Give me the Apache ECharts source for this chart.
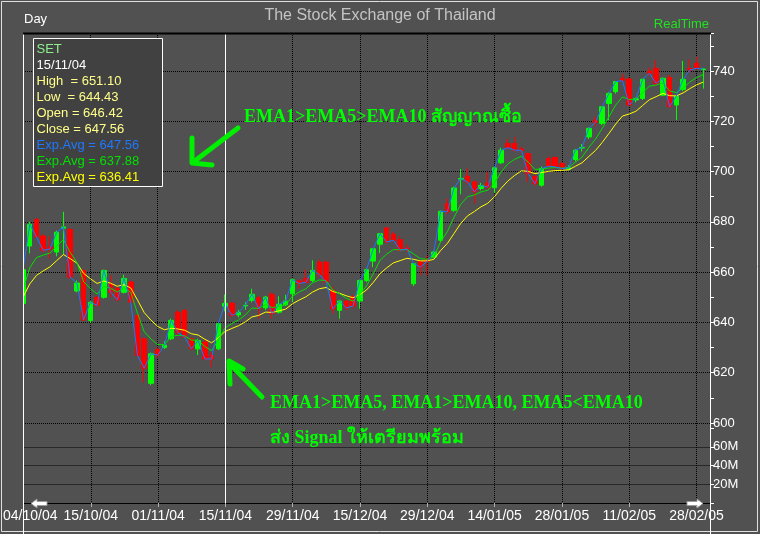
<!DOCTYPE html>
<html><head><meta charset="utf-8">
<script src="https://cdn.jsdelivr.net/npm/echarts@6/dist/echarts.min.js"></script>
<style>html,body{margin:0;padding:0;background:#515151;}#c{width:760px;height:534px;}</style>
</head><body><div id="c"></div>
<script>
const dates = ['01/10/04','04/10/04','05/10/04','06/10/04','07/10/04','08/10/04','11/10/04','12/10/04','13/10/04','14/10/04',
'15/10/04','18/10/04','19/10/04','20/10/04','21/10/04','22/10/04','26/10/04','27/10/04','28/10/04','29/10/04',
'01/11/04','02/11/04','03/11/04','04/11/04','05/11/04','08/11/04','09/11/04','10/11/04','11/11/04','12/11/04',
'15/11/04','16/11/04','17/11/04','18/11/04','19/11/04','22/11/04','23/11/04','24/11/04','25/11/04','26/11/04',
'29/11/04','30/11/04','01/12/04','02/12/04','03/12/04','07/12/04','08/12/04','09/12/04','13/12/04','14/12/04',
'15/12/04','16/12/04','17/12/04','20/12/04','21/12/04','22/12/04','23/12/04','24/12/04','27/12/04','28/12/04',
'29/12/04','30/12/04','04/01/05','05/01/05','06/01/05','07/01/05','10/01/05','11/01/05','12/01/05','13/01/05',
'14/01/05','17/01/05','18/01/05','19/01/05','20/01/05','21/01/05','24/01/05','25/01/05','26/01/05','27/01/05',
'28/01/05','31/01/05','01/02/05','02/02/05','03/02/05','04/02/05','07/02/05','08/02/05','09/02/05','10/02/05',
'11/02/05','14/02/05','15/02/05','16/02/05','17/02/05','18/02/05','21/02/05','22/02/05','24/02/05','25/02/05',
'28/02/05','01/03/05','02/03/05'];

const openP = [647.5,670.4,681.0,674.4,670.0,668.0,677.5,677.0,652.5,660.7,
640.8,650.0,650.0,655.4,653.5,652.0,656.1,642.8,633.5,615.8,
629.2,630.0,633.5,644.1,644.8,633.5,629.5,632.2,627.0,629.5,
646.42,647.7,643.0,646.6,648.8,649.8,645.8,651.2,644.1,647.0,
651.4,656.5,657.5,656.7,664.0,664.0,652.8,644.8,648.5,650.2,
648.5,656.7,664.4,671.1,677.6,675.1,672.9,669.5,655.4,664.2,
665.0,666.0,672.7,687.3,684.6,697.0,698.2,695.9,693.3,695.5,
693.6,703.5,711.2,711.2,709.0,707.2,698.0,694.6,705.2,705.6,
703.2,701.0,704.8,709.4,713.8,720.5,719.2,727.1,731.8,737.1,
736.8,728.5,729.1,740.0,741.1,730.4,737.5,726.5,732.7,741.0,
743.1,740.6];

const highP = [662.0,680.0,681.5,675.0,674.3,676.5,684.0,677.5,656.7,661.0,
648.5,650.5,661.0,658.7,654.5,659.0,656.5,643.5,634.0,628.0,
630.0,632.5,641.5,645.0,645.3,634.0,633.5,633.0,628.2,640.0,
651.10,648.0,645.0,648.0,653.4,650.5,650.5,652.0,650.4,651.0,
657.5,657.0,661.0,664.7,665.0,664.5,654.3,648.8,649.0,651.0,
657.0,661.5,669.5,675.5,678.0,676.0,674.5,671.0,663.5,664.5,
666.5,668.5,684.5,689.3,694.0,701.0,701.2,696.5,695.5,699.9,
702.0,709.5,713.0,713.8,710.0,707.5,699.0,702.0,706.0,706.0,
704.0,702.5,709.0,711.0,717.5,722.0,726.0,731.5,736.0,739.0,
737.5,729.5,737.0,741.5,744.4,737.5,738.5,730.5,744.0,744.6,
745.7,741.0];

const lowP = [646.5,667.5,673.5,668.0,665.5,666.3,667.0,657.5,652.0,640.5,
639.7,646.4,649.5,650.0,648.5,651.5,647.5,626.3,616.2,615.0,
626.0,629.5,633.0,635.0,634.0,629.0,627.0,625.0,622.2,629.0,
644.43,642.0,642.0,645.0,648.0,641.5,645.0,641.5,643.5,646.5,
648.1,653.5,655.5,656.0,658.0,656.0,643.5,641.5,645.0,645.5,
645.5,656.0,662.0,667.6,671.5,672.0,668.5,668.0,654.5,658.7,
658.7,665.5,672.0,683.0,684.0,691.0,695.0,687.3,692.5,693.0,
691.5,703.0,709.0,708.0,707.5,695.9,694.5,694.0,701.5,701.0,
700.5,700.5,704.0,708.0,713.0,718.0,718.5,720.5,731.0,735.5,
726.0,727.5,728.5,738.0,734.0,730.0,725.5,720.5,732.0,739.5,
740.5,733.0];

const closeP = [661.0,679.0,674.0,668.7,669.2,675.9,678.0,658.0,655.7,641.0,
648.0,646.8,660.7,652.0,649.0,657.5,648.1,626.8,621.8,627.5,
627.0,631.0,640.8,636.0,634.2,629.5,632.8,625.5,625.5,639.5,
647.56,642.8,644.0,646.8,651.2,645.4,650.1,643.5,647.2,648.5,
657.0,655.5,656.0,660.7,659.0,656.1,645.4,648.5,645.8,646.5,
656.7,661.0,669.3,675.3,672.0,672.7,668.7,669.3,663.4,662.0,
664.3,668.0,684.2,684.0,693.5,697.3,695.9,692.0,694.5,693.8,
701.5,708.5,709.5,708.5,708.5,699.2,695.2,701.2,702.1,701.9,
701.2,701.5,708.5,709.6,717.2,719.5,725.8,731.1,735.8,736.2,
726.5,729.0,736.7,739.1,735.1,737.1,725.8,730.0,736.7,740.4,
741.1,740.8];

const ema5 = [653.0,661.7,665.8,666.8,667.6,670.4,672.9,667.9,663.9,656.2,
653.5,651.3,654.4,653.6,652.1,653.9,652.0,643.6,636.3,633.4,
631.2,631.2,634.4,634.9,634.7,633.0,632.9,630.4,628.8,633.0,
637.88,639.5,641.0,642.9,645.7,645.6,647.1,645.9,646.3,647.1,
650.4,652.1,653.4,655.8,656.9,656.6,652.9,651.4,649.6,648.5,
651.3,654.5,659.4,664.7,667.2,669.0,668.9,669.0,667.2,665.4,
665.1,666.0,672.1,676.1,681.9,687.0,690.0,690.7,691.9,692.6,
695.5,699.9,703.1,704.9,706.1,703.8,700.9,701.0,701.4,701.6,
701.4,701.5,703.8,705.7,709.6,712.9,717.2,721.8,726.5,729.7,
728.7,728.8,731.4,734.0,734.4,735.3,732.1,731.4,733.2,735.6,
737.4,738.6];

const ema10 = [650.0,655.3,658.7,660.5,662.1,664.6,667.0,665.4,663.6,659.5,
657.4,655.5,656.5,655.6,654.4,655.0,653.7,648.9,643.9,640.9,
638.4,637.1,637.7,637.4,636.9,635.5,635.0,633.3,631.9,633.9,
636.41,637.6,638.7,640.2,642.2,642.8,644.1,644.0,644.6,645.3,
647.4,648.9,650.2,652.1,653.4,653.9,652.3,651.6,650.6,649.8,
651.1,652.9,655.9,659.4,661.7,663.7,664.6,665.5,665.1,664.5,
664.5,665.1,668.6,671.4,675.4,679.4,682.4,684.1,686.0,687.4,
690.0,693.4,696.3,698.5,700.3,700.1,699.2,699.6,700.1,700.4,
700.5,700.7,702.1,703.5,706.0,708.4,711.6,715.2,718.9,722.1,
722.9,724.0,726.3,728.6,729.8,731.1,730.2,730.1,731.3,733.0,
734.5,735.6];

const volumeTickLabels = ['20M','40M','60M'];
const cursorDate = '15/11/04';
const infoLines = ['SET','15/11/04','High  = 651.10','Low  = 644.43','Open = 646.42','Close = 647.56','Exp.Avg = 647.56','Exp.Avg = 637.88','Exp.Avg = 636.41'];
const infoColors = ['#8fef8f','#ffffff','#ffff8a','#ffff8a','#ffff8a','#ffff8a','#1e78ff','#00e000','#ffff00'];

const candleData = openP.map((o,i)=>[o, closeP[i], lowP[i], highP[i]]);

const chart = echarts.init(document.getElementById('c'), null, {renderer:'canvas'});
const FONT = '"Liberation Sans", Arial, sans-serif';
const majorIdx = (i)=> i>0 && i%10===0;
const labelIdx = (i)=> i===1 || (i>=10 && i%10===0);

function graphics(cursorX){
  const g = [];
  // mask outside the left plot edge
  g.push({type:'rect', z:95, shape:{x:2,y:34,width:21,height:468}, style:{fill:'#515151'}});
  g.push({type:'rect', z:100, shape:{x:1.5,y:1.5,width:756,height:530}, style:{fill:'none', stroke:'#e0e0e0', lineWidth:1}});
  g.push({type:'line', z:100, shape:{x1:23.5,y1:33,x2:23.5,y2:534}, style:{stroke:'#ffffff', lineWidth:1}});
  g.push({type:'line', z:100, shape:{x1:710.5,y1:33,x2:710.5,y2:534}, style:{stroke:'#ffffff', lineWidth:1}});
  g.push({type:'line', z:100, shape:{x1:23,y1:33.5,x2:711,y2:33.5}, style:{stroke:'#000000', lineWidth:2}});
  if (cursorX != null) {
    const cx = Math.floor(cursorX)+0.5;
    g.push({type:'line', id:'cursor', z:90, shape:{x1:cx,y1:34,x2:cx,y2:503}, style:{stroke:'#ffffff', lineWidth:1}});
  }
  g.push({type:'text', z:100, style:{text:'The Stock Exchange of Thailand', x:380, y:16, fill:'#c4c4c4', font:'16px '+FONT, textAlign:'center', verticalAlign:'middle', textVerticalAlign:'middle'}});
  g.push({type:'text', z:100, style:{text:'Day', x:24, y:19, fill:'#ffffff', font:'13px '+FONT, textAlign:'left', verticalAlign:'middle', textVerticalAlign:'middle'}});
  g.push({type:'text', z:100, style:{text:'RealTime', x:709, y:24, fill:'#20e020', font:'13px '+FONT, textAlign:'right', verticalAlign:'middle', textVerticalAlign:'middle'}});
  // info box
  g.push({type:'rect', z:110, shape:{x:33.5,y:38.5,width:129,height:148}, style:{fill:'#414141', stroke:'#ffffff', lineWidth:1}});
  infoLines.forEach((t,k)=>{
    g.push({type:'text', z:111, style:{text:t, x:36.5, y:49.5+16*k, fill:infoColors[k], font:'13px '+FONT, textAlign:'left', verticalAlign:'middle', textVerticalAlign:'middle'}});
  });
  // annotations
  const AF = 'bold 18px "Liberation Serif", "DejaVu Serif", serif';
  g.push({type:'text', z:120, style:{text:'EMA1>EMA5>EMA10 สัญญาณซื้อ', x:244, y:117, fill:'#00ff00', font:AF, textAlign:'left', verticalAlign:'middle', textVerticalAlign:'middle'}});
  g.push({type:'text', z:120, style:{text:'EMA1>EMA5, EMA1>EMA10, EMA5<EMA10', x:270, y:403, fill:'#00ff00', font:AF, textAlign:'left', verticalAlign:'middle', textVerticalAlign:'middle'}});
  g.push({type:'text', z:120, style:{text:'ส่ง Signal ให้เตรียมพร้อม', x:270, y:438, fill:'#00ff00', font:AF, textAlign:'left', verticalAlign:'middle', textVerticalAlign:'middle'}});
  const AS = {stroke:'#00ee00', lineWidth:5, lineCap:'round', lineJoin:'round', fill:'none'};
  g.push({type:'polyline', z:120, shape:{points:[[238,128],[196,160]]}, style:AS});
  g.push({type:'polyline', z:120, shape:{points:[[192,138],[192,163],[212,165]]}, style:AS});
  g.push({type:'polyline', z:120, shape:{points:[[262,397],[232,366]]}, style:AS});
  g.push({type:'polyline', z:120, shape:{points:[[230,384],[229,361],[243,369]]}, style:AS});
  // scroll arrows
  g.push({type:'polygon', z:120, shape:{points:[[31,503.5],[37,499],[37,501.5],[47,501.5],[47,505.5],[37,505.5],[37,508]]}, style:{fill:'#ffffff', stroke:'#9a9a9a', lineWidth:1}});
  g.push({type:'polygon', z:120, shape:{points:[[703,503.5],[697,499],[697,501.5],[687,501.5],[687,505.5],[697,505.5],[697,508]]}, style:{fill:'#ffffff', stroke:'#9a9a9a', lineWidth:1}});
  return g;
}

const dotted = {color:'#000000', type:[1,1], width:1};
const option = {
  animation:false,
  backgroundColor:'#515151',
  grid:[
    {left:23, right:50, top:33, height:390},
    {left:23, right:50, top:423, height:80}
  ],
  xAxis:[
    {type:'category', gridIndex:0, data:dates, boundaryGap:false,
     axisLine:{show:false}, axisTick:{show:false}, axisLabel:{show:false},
     splitLine:{show:true, interval:(i)=>majorIdx(i), lineStyle:dotted}},
    {type:'category', gridIndex:1, data:dates, boundaryGap:false,
     axisLine:{show:true, lineStyle:{color:'#000000', width:1}},
     axisTick:{show:true, interval:(i)=>majorIdx(i), length:4, lineStyle:{color:'#b0b0b0'}},
     axisLabel:{show:true, interval:(i)=>labelIdx(i), color:'#ffffff', fontSize:14, fontFamily:'Liberation Sans', margin:6},
     splitLine:{show:true, interval:(i)=>majorIdx(i), lineStyle:dotted}}
  ],
  yAxis:[
    {type:'value', gridIndex:0, position:'right', min:600, max:755.13, interval:10, scale:true,
     axisLine:{show:false}, axisTick:{show:true, length:4, lineStyle:{color:'#ffffff'}},
     axisLabel:{show:true, margin:3, color:'#ffffff', fontSize:13, fontFamily:'Liberation Sans',
       formatter:(v)=> (Math.abs(v%20)<1e-6 && v<=740) ? String(v) : ''},
     splitLine:{show:true, lineStyle:{color:['#000000','rgba(0,0,0,0)'], type:[1,1], width:1}}},
    {type:'value', gridIndex:1, position:'right', min:0, max:85.4e6, interval:20e6,
     axisLine:{show:false}, axisTick:{show:true, length:4, lineStyle:{color:'#ffffff'}},
     axisLabel:{show:true, margin:3, color:'#ffffff', fontSize:13, fontFamily:'Liberation Sans',
       formatter:(v)=>{ const k = Math.round(v/20e6)-1; return (Math.abs(v-(k+1)*20e6)<1 && k>=0 && k<volumeTickLabels.length) ? volumeTickLabels[k] : ''; }},
     splitLine:{show:true, lineStyle:{color:['rgba(0,0,0,0)','#000000','#000000','#000000','rgba(0,0,0,0)','rgba(0,0,0,0)'], type:[1,1], width:1}}}
  ],
  series:[
    {type:'candlestick', name:'SET', xAxisIndex:0, yAxisIndex:0, data:candleData, barWidth:5, z:2, clip:true,
     itemStyle:{color:'#00ff00', color0:'#ff0000', borderColor:'#00ff00', borderColor0:'#ff0000', borderWidth:1}},
    {type:'line', name:'EMA10', xAxisIndex:0, yAxisIndex:0, data:ema10, symbol:'none', z:3, clip:true,
     lineStyle:{color:'#ffff00', width:1}},
    {type:'line', name:'EMA5', xAxisIndex:0, yAxisIndex:0, data:ema5, symbol:'none', z:4, clip:true,
     lineStyle:{color:'#00e000', width:1}},
    {type:'line', name:'EMA1', xAxisIndex:0, yAxisIndex:0, data:closeP, symbol:'none', z:5, clip:true,
     lineStyle:{color:'#1e78ff', width:1}}
  ],
  graphic: graphics(null)
};
chart.setOption(option);
const cx = chart.convertToPixel({xAxisIndex:0}, cursorDate);
chart.setOption({graphic: graphics(cx)}, {replaceMerge:['graphic']});
</script>
</body></html>
